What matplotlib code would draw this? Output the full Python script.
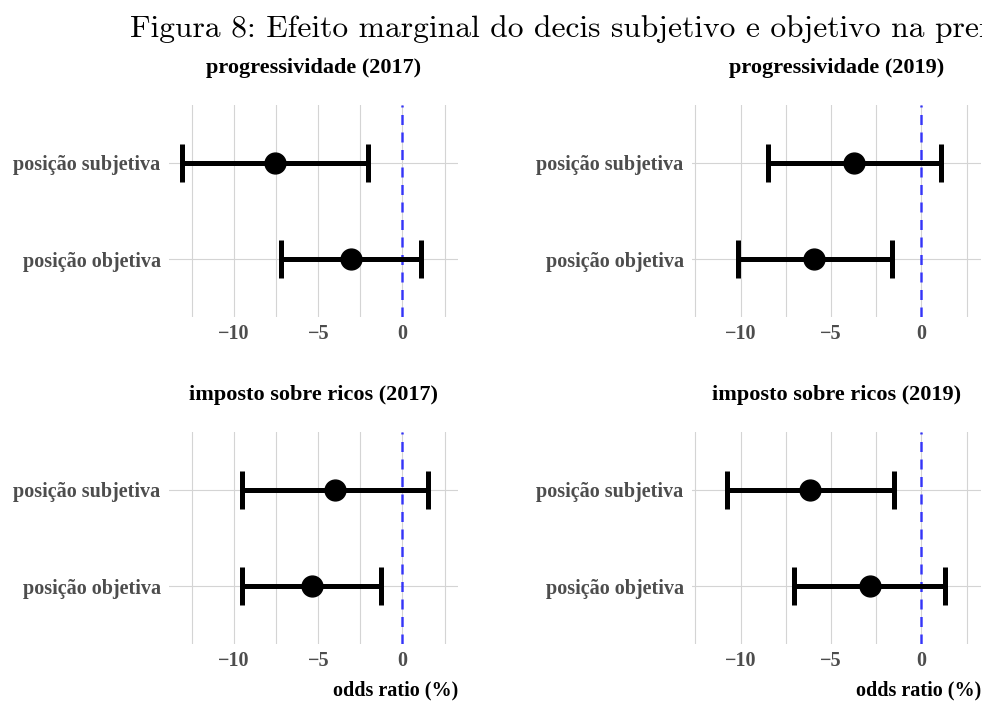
import matplotlib
matplotlib.use("Agg")
import matplotlib.pyplot as plt
from matplotlib import font_manager
import numpy as np

# --- odds ratio estimates (%) with 95% intervals, one entry per panel ---
titles = ["progressividade (2017)", "progressividade (2019)",
          "imposto sobre ricos (2017)", "imposto sobre ricos (2019)"]
categories = ["posição objetiva", "posição subjetiva"]

est_subj = [-7.58, -3.71, -4.02, -6.14]
low_subj = [-13.07, -8.48, -9.52, -10.77]
high_subj = [-2.06, 1.09, 1.51, -1.53]

est_obj = [-3.07, -5.92, -5.39, -2.84]
low_obj = [-7.22, -10.16, -9.52, -7.04]
high_obj = [1.13, -1.60, -1.29, 1.33]

xticks = [-10, -5, 0]
suptitle = "Figura 8: Efeito marginal do decis subjetivo e objetivo na preferência"


def pick_font():
    """Prefer a condensed serif for the panel text."""
    names = {f.name for f in font_manager.fontManager.ttflist}
    for name in ["DejaVu Serif Condensed", "Liberation Serif", "DejaVu Serif"]:
        if name in names:
            return name
    return "serif"


body_font = pick_font()

W, H = 982, 701
fig = plt.figure(figsize=(W / 100, H / 100), dpi=100)

# panel boxes in pixels: (left, top, right, bottom)
boxes = [(169, 105, 458, 317), (692, 105, 981, 317),
         (169, 432, 458, 644), (692, 432, 981, 644)]
xlims = [(-13.87, 3.30), (-12.69, 3.30), (-13.87, 3.30), (-12.69, 3.30)]

grid_col = "#D4D4D4"
tick_col = "#4D4D4D"

for i, (l, t, r, b) in enumerate(boxes):
    ax = fig.add_axes([l / W, 1 - b / H, (r - l) / W, (b - t) / H])
    est = np.array([est_obj[i], est_subj[i]])
    low = np.array([low_obj[i], low_subj[i]])
    high = np.array([high_obj[i], high_subj[i]])
    ypos = np.arange(1, len(categories) + 1)

    ax.set_xlim(*xlims[i])
    ax.set_ylim(0.4, 2.6)

    # grid: majors every 5, minors halfway
    ax.set_xticks(xticks)
    ax.set_xticks(np.arange(-12.5, 5, 5), minor=True)
    ax.set_yticks(ypos)
    ax.set_yticklabels(categories)
    ax.grid(True, which="both", axis="x", color=grid_col, lw=0.8)
    ax.grid(True, which="major", axis="y", color=grid_col, lw=0.8)
    ax.set_axisbelow(True)
    for s in ax.spines.values():
        s.set_visible(False)
    ax.tick_params(which="both", length=0)
    ax.tick_params(axis="y", pad=6, labelcolor=tick_col)
    ax.tick_params(axis="x", pad=5, labelcolor=tick_col)
    for lab in ax.get_xticklabels() + ax.get_yticklabels():
        lab.set_fontfamily(body_font)
        lab.set_fontweight("bold")
        lab.set_fontsize(14.5)

    ax.axvline(0, color="blue", alpha=0.75, lw=1.8, dashes=(4, 3), zorder=3)
    ax.errorbar(est, ypos, xerr=[est - low, high - est], fmt="o",
                color="black", ms=15, elinewidth=3.6, capsize=13.5,
                capthick=3.6, zorder=4)

    ax.set_title(titles[i], fontfamily=body_font, fontweight="bold",
                 fontsize=16, pad=23)
    if i >= 2:
        ax.set_xlabel("odds ratio (%)", fontfamily=body_font,
                      fontweight="bold", fontsize=14.5, loc="right",
                      labelpad=7)

fig.text(130 / W, 1 - 37 / H, suptitle,
         fontfamily=["cmr10", "DejaVu Serif"], fontsize=22.7,
         ha="left", va="baseline")

fig.savefig("out.png", dpi=100)
